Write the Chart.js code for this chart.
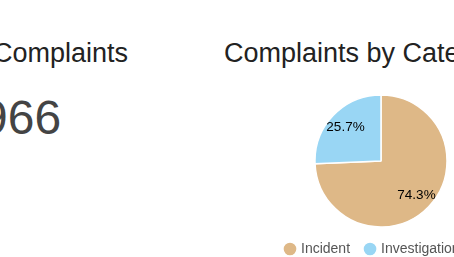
<!DOCTYPE html>
<html>
<head>
<meta charset="utf-8">
<script src="https://cdn.jsdelivr.net/npm/chart.js@4.4.1/dist/chart.umd.min.js"></script>
<style>
    html, body { margin: 0; padding: 0; background: #fff; overflow: hidden; width: 454px; height: 257px; }
    body { position: relative; font-family: "Liberation Sans", Arial, sans-serif; }
    .title { position: absolute; top: 40px; font-size: 27px; line-height: 27px; color: #222; white-space: nowrap; }
    .big { position: absolute; left: -19px; top: 94px; font-size: 48px; line-height: 48px; color: #444; }
    #pie { position: absolute; left: 270px; top: 96px; }
</style>
</head>
<body>
<div class="title" style="left:-7px">Complaints</div>
<div class="big" id="total"></div>
<div class="title" style="left:224px">Complaints by Category</div>
<canvas id="pie" width="222" height="170"></canvas>
<script>
'use strict';
var categories = ['Incident', 'Investigation'];
var counts = [718, 248];
var sliceColors = ['#deb887', '#99d6f4'];

var total = counts.reduce(function(a, b) { return a + b; }, 0);
document.getElementById('total').textContent = total;

// percent text on each slice
var percentLabels = {
    id: 'percentLabels',
    afterDatasetsDraw: function(chart) {
        var ctx = chart.ctx;
        var meta = chart.getDatasetMeta(0);
        ctx.save();
        ctx.font = '13.5px "Liberation Sans", Arial, sans-serif';
        ctx.fillStyle = '#000';
        ctx.textAlign = 'center';
        ctx.textBaseline = 'middle';
        meta.data.forEach(function(arc, i) {
            var p = arc.getProps(['x', 'y', 'startAngle', 'endAngle', 'outerRadius'], true);
            var a = (p.startAngle + p.endAngle) / 2;
            var r = p.outerRadius * 0.745;
            var pct = (counts[i] / total * 100).toFixed(1) + '%';
            ctx.fillText(pct, p.x + Math.cos(a) * r, p.y + Math.sin(a) * r);
        });
        ctx.restore();
    }
};

new Chart(document.getElementById('pie'), {
    type: 'pie',
    data: {
        labels: categories,
        datasets: [{
            data: counts,
            backgroundColor: sliceColors,
            borderColor: '#fff',
            borderWidth: 1.5
        }]
    },
    options: {
        responsive: false,
        animation: false,
        radius: 66,
        plugins: {
            tooltip: { enabled: false },
            legend: {
                position: 'bottom',
                align: 'start',
                labels: {
                    usePointStyle: true,
                    pointStyle: 'circle',
                    boxWidth: 8,
                    boxHeight: 10,
                    padding: 16,
                    color: '#555',
                    font: { size: 14, family: '"Liberation Sans", Arial, sans-serif' }
                }
            }
        }
    },
    plugins: [percentLabels]
});
</script>
</body>
</html>
